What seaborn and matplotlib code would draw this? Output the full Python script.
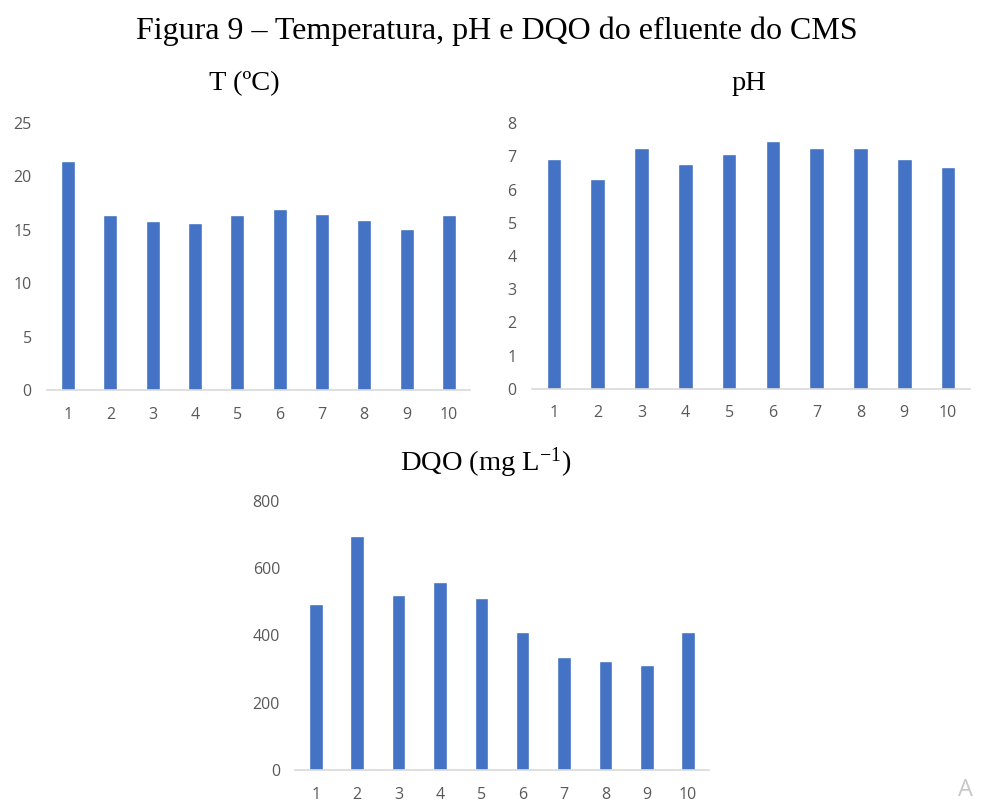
import matplotlib
matplotlib.use("Agg")
import matplotlib.pyplot as plt
import seaborn as sns
import pandas as pd

# Sample number (collection campaigns)
amostras = ["1", "2", "3", "4", "5", "6", "7", "8", "9", "10"]

# Effluent parameters per sample
temperatura = [21.4, 16.4, 15.8, 15.6, 16.4, 16.95, 16.5, 15.95, 15.1, 16.4]
ph = [6.92, 6.31, 7.25, 6.77, 7.07, 7.48, 7.25, 7.25, 6.92, 6.68]
dqo = [493, 695, 521, 557, 511, 410, 337, 323, 313, 410]

titulos = ["T (ºC)", "pH", "DQO (mg L$\\mathrm{^{-1}}$)"]
yticks = [[0, 5, 10, 15, 20, 25], [0, 1, 2, 3, 4, 5, 6, 7, 8], [0, 200, 400, 600, 800]]

sns.set_theme(style="white")
plt.rcParams["font.family"] = ["Open Sans", "DejaVu Sans"]
plt.rcParams["mathtext.fontset"] = "custom"
plt.rcParams["mathtext.rm"] = "Liberation Serif"

W, H = 983, 802
fig = plt.figure(figsize=(W / 100, H / 100), dpi=100)

def axes_px(x0, x1, y_top, y_bot):
    return fig.add_axes([x0 / W, 1 - y_bot / H, (x1 - x0) / W, (y_bot - y_top) / H])

axs = [
    axes_px(47, 470, 123, 390),
    axes_px(532, 970, 123.3, 388.7),
    axes_px(295.3, 708.7, 500.7, 770),
]

bar_color = "#4472C4"
tick_color = "#595959"
serif = ["Liberation Serif", "DejaVu Serif"]

for ax, valores, yt in zip(axs, [temperatura, ph, dqo], yticks):
    df = pd.DataFrame({"amostra": amostras, "valor": valores})
    sns.barplot(data=df, x="amostra", y="valor", color=bar_color, width=0.33,
                saturation=1, ax=ax)
    ax.set_xlim(-0.5, 9.5)
    ax.set_ylim(0, yt[-1])
    ax.set_yticks(yt)
    ax.set_xlabel("")
    ax.set_ylabel("")
    for s in ["top", "right", "left"]:
        ax.spines[s].set_visible(False)
    ax.spines["bottom"].set_color("#D9D9D9")
    ax.spines["bottom"].set_linewidth(1.2)
    ax.tick_params(axis="both", length=0, labelsize=11.5, colors=tick_color)
    ax.tick_params(axis="y", pad=11)
    ax.tick_params(axis="x", pad=12)
    ax.set_facecolor("none")

# Subplot titles
fig.text(244.5 / W, 1 - 84 / H, titulos[0], ha="center", va="center",
         fontsize=20.5, family=serif, color="black")
fig.text(749 / W, 1 - 83 / H, titulos[1], ha="center", va="center",
         fontsize=20.5, family=serif, color="black")
fig.text(486 / W, 1 - 463 / H, titulos[2], ha="center", va="center",
         fontsize=20.5, family=serif, color="black")

# Figure caption
fig.text(497 / W, 1 - 31 / H, "Figura 9 – Temperatura, pH e DQO do efluente do CMS",
         ha="center", va="center", fontsize=23, family=serif, color="black")

# Faded corner glyph
fig.text(958 / W, 1 - 790 / H, "A", ha="left", va="center", fontsize=17,
         color="#C8C8C8", family=["Open Sans", "DejaVu Sans"])

fig.savefig("out.png", dpi=100)
